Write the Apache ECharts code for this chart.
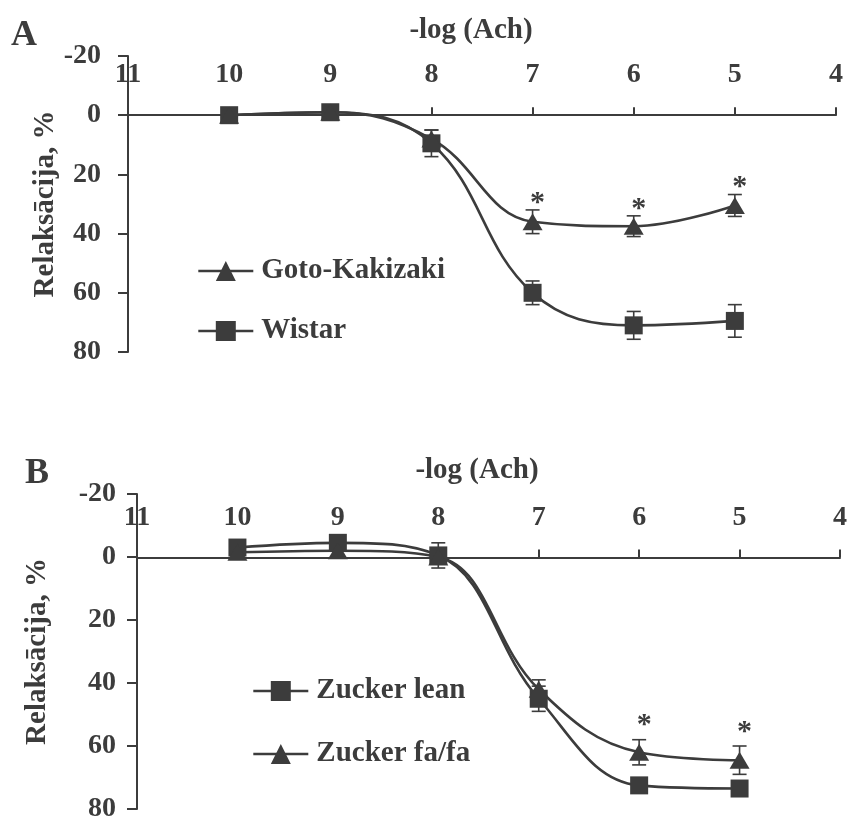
<!DOCTYPE html>
<html>
<head>
<meta charset="utf-8">
<script src="https://cdn.jsdelivr.net/npm/echarts@6/dist/echarts.min.js"></script>
<style>
html,body{margin:0;padding:0;background:#fff;}
#chart{width:850px;height:823px;}
</style>
</head>
<body>
<div id="chart"></div>
<script>
// ---- data ----
const xValues = [10, 9, 8, 7, 6, 5];
const xTickMin = 4, xTickMax = 11;
const yTickMin = -20, yTickMax = 80;

// Panel A
const gkMean = [0, -1, 8, 36, 37.5, 30.5];
const gkErr = [0, 0, 3, 4, 3.5, 3.7];
const gkSig = [0, 0, 0, 1, 1, 1];
const wistarMean = [0, -1, 9.5, 60, 71, 69.5];
const wistarErr = [0, 0, 4.5, 4, 4.7, 5.5];

// Panel B
const leanMean = [-3, -4.5, -0.5, 45, 72.5, 73.5];
const leanErr = [0, 0, 4, 4, 1, 1];
const fafaMean = [-1.5, -2, 0, 42, 62, 64.5];
const fafaErr = [0, 0, 0, 3, 4, 4.5];
const fafaSig = [0, 0, 0, 0, 1, 1];

const xTitle = '-log (Ach)';
const yTitle = 'Relaksācija, %';
const panelLabels = ['A', 'B'];
const namesA = ['Goto-Kakizaki', 'Wistar'];
const namesB = ['Zucker lean', 'Zucker fa/fa'];

// ---- styling ----
const C = '#3c3c3c';
const FONT = '"Liberation Serif", "Times New Roman", serif';

const chart = echarts.init(document.getElementById('chart'), null, {renderer: 'canvas'});

const grids = [
  {left: 128, top: 56, width: 708, height: 296},
  {left: 137, top: 494, width: 703, height: 317}
];
// pixel offset of the zero line from the grid top (x axis sits on y = 0)
function zeroOffset(g) { return -g.height * (0 - yTickMin) / (yTickMax - yTickMin); }

function pts(mean) { return xValues.map((x, i) => [x, mean[i]]); }
function errPts(mean, err) { return xValues.map((x, i) => [x, mean[i], err[i]]); }
function sigPts(mean, err, sig) { return xValues.map((x, i) => [x, mean[i], err[i], sig[i]]); }

function errRender(params, api) {
  const x = api.value(0), y = api.value(1), e = api.value(2);
  if (!e) return null;
  const t = api.coord([x, y - e]);
  const b = api.coord([x, y + e]);
  const w = 7;
  const st = {stroke: C, lineWidth: 1.6};
  return {type: 'group', children: [
    {type: 'line', shape: {x1: t[0], y1: t[1], x2: b[0], y2: b[1]}, style: st},
    {type: 'line', shape: {x1: t[0] - w, y1: t[1], x2: t[0] + w, y2: t[1]}, style: st},
    {type: 'line', shape: {x1: b[0] - w, y1: b[1], x2: b[0] + w, y2: b[1]}, style: st}
  ]};
}
function makeSigRender(lift) {
  return function (params, api) {
    const x = api.value(0), y = api.value(1), e = api.value(2), s = api.value(3);
    if (!s) return null;
    const t = api.coord([x, y - e]);
    return {type: 'text', x: t[0] + 5, y: t[1] - lift, style: {
      text: '*', fill: C, font: 'bold 30px ' + FONT, textAlign: 'center', textVerticalAlign: 'middle'
    }};
  };
}

function xAxisCfg(gi, margin) {
  return {
    gridIndex: gi, type: 'value', min: xTickMin, max: xTickMax, interval: 1, inverse: true,
    position: 'top', offset: zeroOffset(grids[gi]),
    axisLine: {onZero: false, lineStyle: {color: C, width: 2}},
    axisTick: {show: true, length: 8, lineStyle: {color: C, width: 2}},
    axisLabel: {color: C, fontFamily: FONT, fontWeight: 'bold', fontSize: 28, margin: margin},
    splitLine: {show: false}
  };
}
function yAxisCfg(gi, margin, nameGap) {
  return {
    gridIndex: gi, type: 'value', min: yTickMin, max: yTickMax, interval: 20, inverse: true,
    name: yTitle, nameLocation: 'middle', nameRotate: 90, nameGap: nameGap, nameMoveOverlap: false,
    nameTextStyle: {color: C, fontFamily: FONT, fontWeight: 'bold', fontSize: 29},
    axisLine: {show: true, onZero: false, lineStyle: {color: C, width: 2}},
    axisTick: {show: true, length: 10, lineStyle: {color: C, width: 2}},
    axisLabel: {color: C, fontFamily: FONT, fontWeight: 'bold', fontSize: 28, margin: margin},
    splitLine: {show: false}
  };
}
function lineSeries(name, data, gi, symbol, size) {
  return {
    name: name, type: 'line', xAxisIndex: gi, yAxisIndex: gi, data: data,
    smooth: 0.4, symbol: symbol, symbolSize: size, showSymbol: true,
    lineStyle: {color: C, width: 2.6}, itemStyle: {color: C}, z: 5, animation: false
  };
}
function customSeries(data, gi, render, z) {
  return {type: 'custom', xAxisIndex: gi, yAxisIndex: gi, data: data, renderItem: render, z: z, animation: false, silent: true};
}
function legendCfg(name, left, top) {
  return {
    data: [name], left: left, top: top, orient: 'vertical', padding: 0,
    itemWidth: 55, itemHeight: 25, itemGap: 0,
    lineStyle: {width: 2.6, color: C},
    textStyle: {color: C, fontFamily: FONT, fontWeight: 'bold', fontSize: 29, lineHeight: 30, padding: [0, 0, 0, 3]},
    selectedMode: false
  };
}
function gtext(t, x, y, size) {
  return {type: 'text', x: x, y: y, style: {text: t, fill: C, font: 'bold ' + size + 'px ' + FONT, textAlign: 'center', textVerticalAlign: 'middle'}};
}

const option = {
  backgroundColor: '#fff',
  animation: false,
  grid: grids,
  xAxis: [xAxisCfg(0, 26), xAxisCfg(1, 26)],
  yAxis: [yAxisCfg(0, 27, 68), yAxisCfg(1, 21, 85)],
  legend: [
    legendCfg(namesA[0], 197, 256),
    legendCfg(namesA[1], 197, 316),
    legendCfg(namesB[0], 252, 676),
    legendCfg(namesB[1], 252, 739)
  ],
  graphic: [
    gtext(panelLabels[0], 24, 36, 36),
    gtext(panelLabels[1], 37, 474, 36),
    gtext(xTitle, 471, 31, 29),
    gtext(xTitle, 477, 471, 29)
  ],
  series: [
    customSeries(errPts(wistarMean, wistarErr), 0, errRender, 2),
    customSeries(errPts(gkMean, gkErr), 0, errRender, 2),
    lineSeries(namesA[1], pts(wistarMean), 0, 'rect', 18),
    lineSeries(namesA[0], pts(gkMean), 0, 'triangle', [20, 17]),
    customSeries(sigPts(gkMean, gkErr, gkSig), 0, makeSigRender(7), 6),

    customSeries(errPts(leanMean, leanErr), 1, errRender, 2),
    customSeries(errPts(fafaMean, fafaErr), 1, errRender, 2),
    lineSeries(namesB[0], pts(leanMean), 1, 'rect', 18),
    lineSeries(namesB[1], pts(fafaMean), 1, 'triangle', [20, 17]),
    customSeries(sigPts(fafaMean, fafaErr, fafaSig), 1, makeSigRender(14), 6)
  ]
};
chart.setOption(option);
</script>
</body>
</html>
